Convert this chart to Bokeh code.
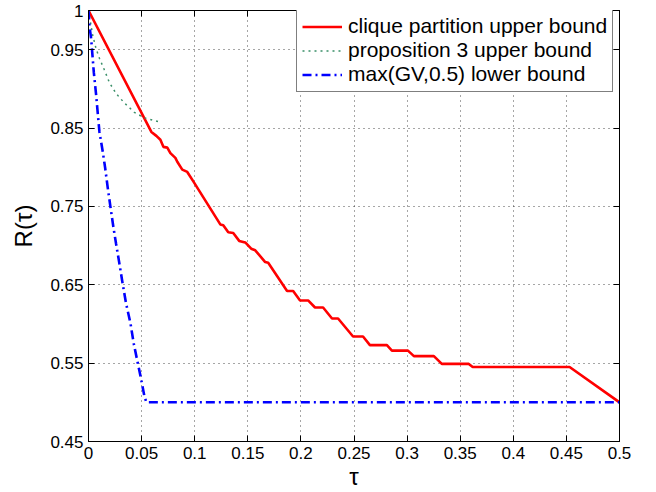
from bokeh.plotting import figure
from bokeh.models import FixedTicker, LinearAxis, Legend, LegendItem
from bokeh.embed import file_html
from bokeh.resources import INLINE

# clique partition upper bound
clique_tau = [0.0, 0.0592, 0.0639, 0.0677, 0.0705, 0.0742, 0.0771, 0.0818, 0.0836, 0.0883,
              0.0930, 0.0987, 0.1241, 0.1269, 0.1316, 0.1363, 0.1419, 0.1476, 0.1532, 0.1570,
              0.1664, 0.1692, 0.1870, 0.1927, 0.1992, 0.2068, 0.2133, 0.2209, 0.2293, 0.2350,
              0.2491, 0.2585, 0.2650, 0.2810, 0.2857, 0.3008, 0.3064, 0.3252, 0.3327, 0.3581,
              0.3618, 0.4530, 0.5]
clique_R = [1.0, 0.845, 0.840, 0.835, 0.826, 0.825, 0.818, 0.812, 0.807, 0.797,
            0.794, 0.782, 0.727, 0.726, 0.717, 0.716, 0.706, 0.704, 0.696, 0.694,
            0.679, 0.678, 0.642, 0.642, 0.630, 0.630, 0.621, 0.621, 0.607, 0.607,
            0.584, 0.584, 0.573, 0.573, 0.566, 0.566, 0.559, 0.559, 0.549, 0.549,
            0.545, 0.545, 0.5]

# proposition 3 upper bound
prop_tau = [0.0, 0.0025, 0.0040, 0.0072, 0.0103, 0.0150, 0.0197, 0.0260, 0.0338, 0.0432, 0.0526, 0.0667]
prop_R = [1.0, 0.980, 0.968, 0.951, 0.939, 0.924, 0.908, 0.894, 0.882, 0.870, 0.863, 0.858]

# max(GV, 0.5) lower bound
gv_tau = [0.0, 0.0009, 0.0025, 0.0050, 0.0072, 0.0103, 0.0134, 0.0157, 0.0181, 0.0207,
          0.0235, 0.0260, 0.0291, 0.0322, 0.0354, 0.0395, 0.0426, 0.0458, 0.0489, 0.0526,
          0.0545, 0.5]
gv_R = [1.0, 0.980, 0.964, 0.921, 0.892, 0.845, 0.820, 0.799, 0.774, 0.749,
        0.723, 0.702, 0.677, 0.651, 0.626, 0.601, 0.575, 0.554, 0.534, 0.508,
        0.5, 0.5]

x_ticks = [0, 0.05, 0.1, 0.15, 0.2, 0.25, 0.3, 0.35, 0.4, 0.45, 0.5]
x_tick_labels = ["0", "0.05", "0.1", "0.15", "0.2", "0.25", "0.3", "0.35", "0.4", "0.45", "0.5"]
y_ticks = [0.45, 0.55, 0.65, 0.75, 0.85, 0.95, 1.0]
y_tick_labels = ["0.45", "0.55", "0.65", "0.75", "0.85", "0.95", "1"]

legend_labels = ["clique partition upper bound", "proposition 3 upper bound", "max(GV,0.5) lower bound"]

FONT = "Liberation Sans"

p = figure(frame_width=531, frame_height=431, x_range=(0, 0.5), y_range=(0.45, 1.0),
           output_backend="svg", toolbar_location=None,
           min_border_left=88, min_border_right=29, min_border_top=10, min_border_bottom=48)
p.background_fill_color = "white"
p.border_fill_color = "white"
p.outline_line_color = "black"
p.outline_line_width = 1

def style_axis(ax, show_labels):
    ax.axis_line_color = "black"
    ax.axis_line_width = 1
    ax.major_tick_in = 6
    ax.major_tick_out = 0
    ax.minor_tick_line_color = None
    ax.major_tick_line_color = "black"
    if show_labels:
        ax.major_label_text_font = FONT
        ax.major_label_text_font_size = "17px"
        ax.major_label_text_color = "black"
    else:
        ax.major_label_text_font_size = "0px"
        ax.major_label_text_color = None

xa = p.xaxis[0]
ya = p.yaxis[0]
xa.ticker = FixedTicker(ticks=x_ticks)
ya.ticker = FixedTicker(ticks=y_ticks)
xa.major_label_overrides = dict(zip(x_ticks, x_tick_labels))
ya.major_label_overrides = dict(zip(y_ticks, y_tick_labels))
style_axis(xa, True)
style_axis(ya, True)
xa.major_label_standoff = 5
ya.major_label_standoff = 5
xa.axis_label = "τ"
ya.axis_label = "R(τ)"
for ax in (xa, ya):
    ax.axis_label_text_font = FONT
    ax.axis_label_text_font_size = "24px"
    ax.axis_label_text_font_style = "normal"
    ax.axis_label_text_color = "black"
xa.axis_label_standoff = 1
ya.axis_label_standoff = 10

top = LinearAxis(ticker=FixedTicker(ticks=x_ticks))
right = LinearAxis(ticker=FixedTicker(ticks=y_ticks))
style_axis(top, False)
style_axis(right, False)
p.add_layout(top, "above")
p.add_layout(right, "right")

p.xgrid.ticker = FixedTicker(ticks=x_ticks)
p.ygrid.ticker = FixedTicker(ticks=y_ticks)
for g in (p.xgrid[0], p.ygrid[0]):
    g.grid_line_color = "#111111"
    g.grid_line_alpha = 0.75
    g.grid_line_dash = "1 4"
    g.grid_line_width = 1

r1 = p.line(clique_tau, clique_R, line_color="#ff0000", line_width=2.6)
r2 = p.line(prop_tau, prop_R, line_color="#3a8f68", line_width=1.5, line_dash="2 4")
r3 = p.line(gv_tau, gv_R, line_color="#0000ff", line_width=2.6, line_dash="9 4 2 4")

legend = Legend(items=[LegendItem(label=legend_labels[0], renderers=[r1]),
                       LegendItem(label=legend_labels[1], renderers=[r2]),
                       LegendItem(label=legend_labels[2], renderers=[r3])],
                location=(208, 349))
legend.label_text_font = FONT
legend.label_text_font_size = "21px"
legend.label_text_color = "black"
legend.glyph_width = 40
legend.glyph_height = 21
legend.label_height = 21
legend.label_standoff = 6
legend.padding = 5
legend.spacing = 0
legend.margin = 0
legend.border_line_color = "black"
legend.border_line_width = 1
legend.background_fill_color = "white"
legend.background_fill_alpha = 1
p.add_layout(legend)

open("out.html", "w").write(file_html(p, INLINE))
